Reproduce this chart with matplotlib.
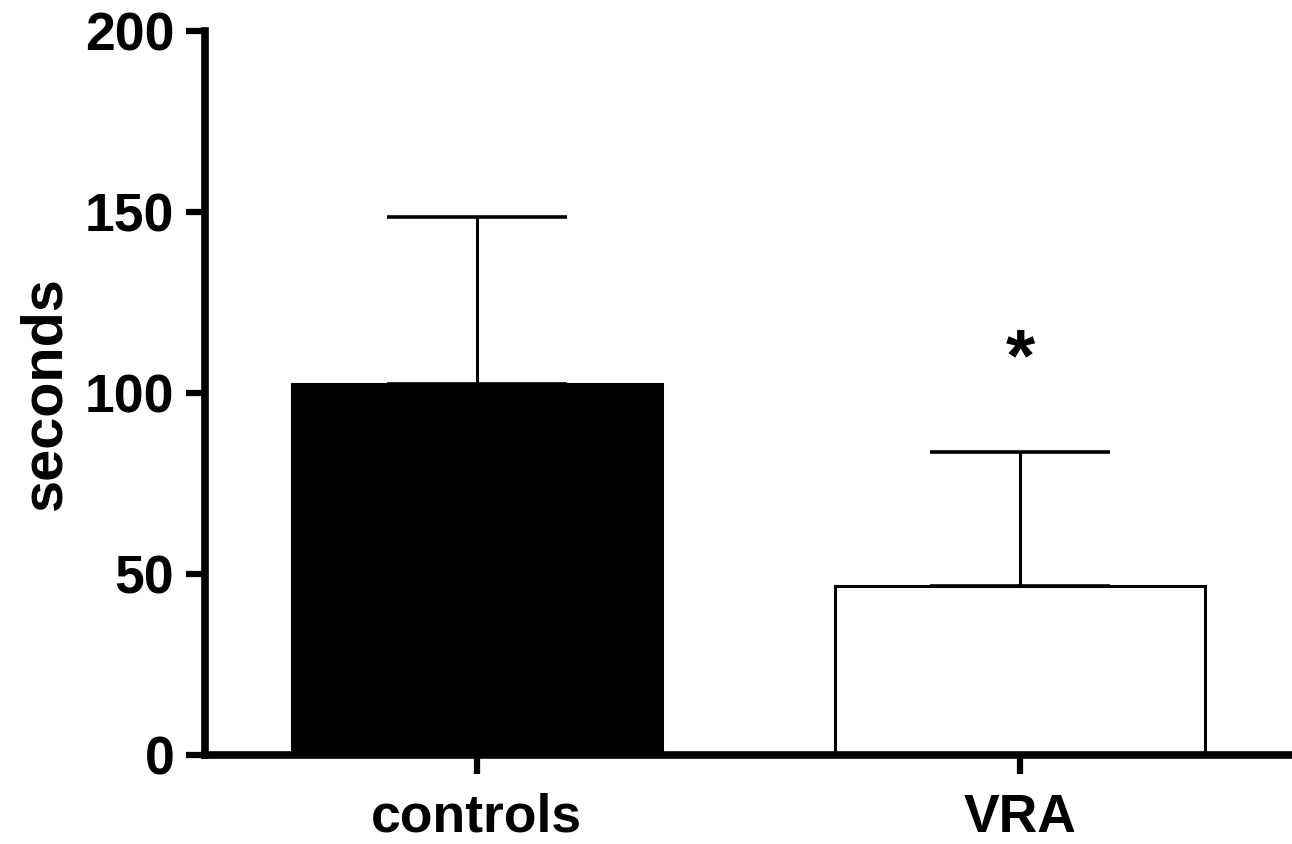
import matplotlib
matplotlib.use("Agg")
import matplotlib.pyplot as plt

categories = ["controls", "VRA"]
means = [102.5, 46.8]
errors = [46.0, 36.8]
colors = ["black", "white"]
yticks = [0, 50, 100, 150, 200]
star_text = "*"
star_y = 109

plt.rcParams['font.family'] = ['Liberation Sans', 'DejaVu Sans']
plt.rcParams['font.weight'] = 'bold'

fig = plt.figure(figsize=(12.92, 8.44), dpi=100)
ax = fig.add_axes([205/1292, 1-755/844, 1-205/1292, (755-31)/844])

x = list(range(len(categories)))
ax.bar(x, means, width=0.68, color=colors, edgecolor="black", linewidth=2.2, zorder=2)
ax.errorbar(x, means, yerr=[[0, 0], errors], fmt='none', ecolor='black',
            elinewidth=2.2, capsize=65, capthick=2.6, zorder=3)
ax.text(1, star_y, star_text, ha='center', va='center', fontsize=54, fontweight='bold')

ax.set_xlim(-0.5, 1.5)
ax.set_ylim(0, 200)
ax.set_yticks(yticks)
ax.set_xticks(x)
ax.set_xticklabels(categories)
ax.set_ylabel("seconds", fontsize=41.5, fontweight='bold', labelpad=9)

for s in ['top', 'right']:
    ax.spines[s].set_visible(False)
for s in ['left', 'bottom']:
    ax.spines[s].set_linewidth(5.5)
ax.tick_params(axis='both', length=14, width=4.5, labelsize=38.5, pad=8)
ax.tick_params(axis='x', pad=13)
for lab in ax.get_xticklabels() + ax.get_yticklabels():
    lab.set_fontweight('bold')

fig.savefig("out.png", dpi=100)
